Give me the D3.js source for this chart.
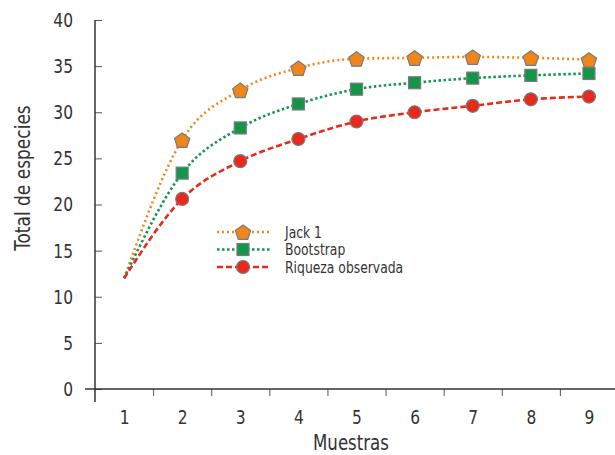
<!DOCTYPE html>
<html>
<head>
<meta charset="utf-8">
<script src="https://cdn.jsdelivr.net/npm/d3@7"></script>
<style>
  body { margin: 0; background: #fff; }
  text { font-family: "DejaVu Sans Condensed", "DejaVu Sans", sans-serif; fill: #333; }
</style>
</head>
<body>
<svg id="chart" width="615" height="455"></svg>
<script>
const muestras = [1, 2, 3, 4, 5, 6, 7, 8, 9];
const jack1 = [12, 27.0, 32.4, 34.8, 35.8, 35.9, 36.0, 35.9, 35.7];
const bootstrap = [12, 23.4, 28.3, 30.9, 32.5, 33.2, 33.7, 34.0, 34.2];
const riqueza = [12, 20.6, 24.7, 27.1, 29.0, 30.0, 30.7, 31.4, 31.7];
const yTicks = [0, 5, 10, 15, 20, 25, 30, 35, 40];
const seriesNames = ["Jack 1", "Bootstrap", "Riqueza observada"];

const svg = d3.select("#chart");

const x = d3.scaleLinear().domain([0.5, 9.5]).range([95, 618]);
const y = d3.scaleLinear().domain([0, 40]).range([389, 20]);

const series = [
  { name: seriesNames[0], values: jack1, color: "#f08519", dash: "2,3", shape: "pentagon" },
  { name: seriesNames[1], values: bootstrap, color: "#12964a", dash: "2.5,2.5", shape: "square" },
  { name: seriesNames[2], values: riqueza, color: "#e8291c", dash: "6,3", shape: "circle" }
];

// squeeze text horizontally around its anchor, the original uses a condensed face
function condense(sel, k) {
  sel.each(function () {
    const t = d3.select(this);
    const ax = +t.attr("x") || 0;
    t.attr("transform", `translate(${ax},0) scale(${k},1) translate(${-ax},0)`);
  });
}

// y axis: ticks crossing the line
const yAxis = svg.append("g")
  .attr("transform", `translate(${x(0.5)},0)`)
  .call(d3.axisLeft(y).tickValues(yTicks).tickSize(7).tickPadding(15));
yAxis.select(".domain").remove();
yAxis.selectAll(".tick line").attr("x2", 7).attr("stroke", "#555");
yAxis.selectAll(".tick text").attr("font-size", 20).style("font-family", null).call(condense, 0.86);
svg.append("line")
  .attr("x1", x(0.5)).attr("x2", x(0.5))
  .attr("y1", 20).attr("y2", 402)
  .attr("stroke", "#333").attr("stroke-width", 1.5);

// x axis: labels at the centres, ticks between them
const xAxis = svg.append("g")
  .attr("transform", `translate(0,${y(0)})`)
  .call(d3.axisBottom(x).tickValues(muestras).tickSize(0).tickPadding(21).tickFormat(d3.format("d")));
xAxis.select(".domain").remove();
xAxis.selectAll(".tick text").attr("font-size", 20).style("font-family", null).call(condense, 0.86);

const xTicks = svg.append("g")
  .attr("transform", `translate(0,${y(0)})`)
  .call(d3.axisBottom(x).tickValues(muestras.slice(0, -1).map(d => d + 0.5)).tickSize(7).tickFormat(""));
xTicks.select(".domain").remove();
xTicks.selectAll(".tick line").attr("stroke", "#555");
svg.append("line")
  .attr("x1", 85).attr("x2", 615)
  .attr("y1", y(0)).attr("y2", y(0))
  .attr("stroke", "#333").attr("stroke-width", 1.5);

// axis titles
svg.append("g")
  .attr("transform", "translate(30,178) rotate(-90)")
  .append("text")
  .attr("text-anchor", "middle")
  .attr("font-size", 22)
  .text("Total de especies")
  .call(condense, 0.86);
svg.append("text")
  .attr("x", 351).attr("y", 450)
  .attr("text-anchor", "middle")
  .attr("font-size", 21)
  .text("Muestras")
  .call(condense, 0.88);

const line = d3.line()
  .x((d, i) => x(muestras[i]))
  .y(d => y(d))
  .curve(d3.curveMonotoneX);

function marker(g, shape, color) {
  if (shape === "pentagon") {
    const r = 8;
    const pts = d3.range(5).map(k => {
      const a = -Math.PI / 2 + k * 2 * Math.PI / 5;
      return [r * Math.cos(a), r * Math.sin(a) + 1];
    });
    g.append("polygon").attr("points", pts.map(p => p.join(",")).join(" "));
  } else if (shape === "square") {
    g.append("rect").attr("x", -6).attr("y", -6).attr("width", 12).attr("height", 12);
  } else {
    g.append("circle").attr("r", 6.5);
  }
  g.selectAll("*").attr("fill", color).attr("stroke", "#7a7a7a").attr("stroke-width", 1.2);
}

series.forEach(s => {
  svg.append("path")
    .attr("d", line(s.values))
    .attr("fill", "none")
    .attr("stroke", s.color)
    .attr("stroke-width", 2.6)
    .attr("stroke-dasharray", s.dash);

  s.values.forEach((v, i) => {
    if (i === 0) return;
    const g = svg.append("g").attr("transform", `translate(${x(muestras[i])},${y(v)})`);
    marker(g, s.shape, s.color);
  });
});

// legend
const legend = svg.append("g");
series.forEach((s, i) => {
  const ly = 232 + i * 17.5;
  legend.append("line")
    .attr("x1", 217).attr("x2", 271)
    .attr("y1", ly).attr("y2", ly)
    .attr("stroke", s.color)
    .attr("stroke-width", 2.6)
    .attr("stroke-dasharray", s.dash);
  const g = legend.append("g").attr("transform", `translate(243,${ly})`);
  marker(g, s.shape, s.color);
  legend.append("text")
    .attr("x", 285).attr("y", ly + 6)
    .attr("font-size", 16)
    .text(s.name)
    .call(condense, 0.86);
});
</script>
</body>
</html>
